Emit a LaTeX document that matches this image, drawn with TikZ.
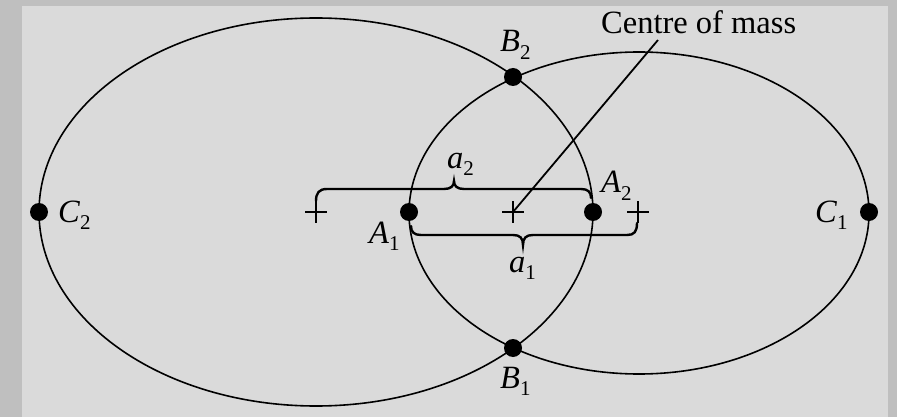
\documentclass[tikz,border=0pt]{standalone}
\usepackage{fontspec}
\setmainfont{Liberation Serif}
\newcommand\lbl[2]{\textit{#1}\raisebox{-0.24em}{\fontsize{21}{21}\selectfont #2}}
\definecolor{outerbg}{HTML}{BFBFBF}
\definecolor{innerbg}{HTML}{DADADA}
\tikzset{
  orbit/.style={line width=1.6pt, draw=black},
  dot/.style={circle, fill=black, inner sep=0pt, minimum size=18pt},
  lab/.style={anchor=base west, inner sep=0pt, font=\fontsize{32.5}{38}\selectfont},
  bracepath/.style={line width=2.4pt, line cap=round},
  plusmark/.style={line width=2.2pt},
  leader/.style={line width=1.8pt}
}
\begin{document}
\begin{tikzpicture}[x=1pt, y=-1pt]
\useasboundingbox (0,0) rectangle (897,417);
\fill[outerbg] (0,0) rectangle (897,417);
\fill[innerbg] (22,6) rectangle (888,417);

% orbits
\draw[orbit] (316,212) ellipse [x radius=277, y radius=194];
\draw[orbit] (639,213) ellipse [x radius=230, y radius=161];

% centres (plus signs)
\coordinate (c2) at (316,212);
\coordinate (cm) at (513,212);
\coordinate (c1) at (638,212);
\foreach \p in {c2,cm,c1}
  \draw[plusmark] (\p) +(-11,0) -- +(11,0) (\p) +(0,-11) -- +(0,11);

% points
\node[dot] (C2) at (39,212) {};
\node[dot] (C1) at (869,212) {};
\node[dot] (B2) at (513,77) {};
\node[dot] (B1) at (513,348) {};
\node[dot] (A1) at (409,212) {};
\node[dot] (A2) at (593,212) {};

% labels
\node[lab] (lC2) at (58,222) {\lbl{C}{2}};
\node[lab] (lC1) at (815,222) {\lbl{C}{1}};
\node[lab] (lB2) at (500,52) {\lbl{B}{2}};
\node[lab] (lB1) at (500,388) {\lbl{B}{1}};
\node[lab] (lA1) at (369,243) {\lbl{A}{1}};
\node[lab] (lA2) at (601,193) {\lbl{A}{2}};
\node[lab] (la2) at (447,168) {\lbl{a}{2}};
\node[lab] (la1) at (509,272) {\lbl{a}{1}};
\node[lab] (com) at (601,34) {Centre of mass};

% leader line
\coordinate (lt) at (658,40);
\draw[leader] (lt) -- (cm);

% braces
\draw[bracepath] (316,201) .. controls (316,193) and (319,189) .. (327,189)
  -- (444,189) .. controls (451,189) and (454,186) .. (454,181)
  .. controls (454,186) and (457,189) .. (464,189)
  -- (581,189) .. controls (588,189) and (591,192) .. (591,198);
\draw[bracepath] (411,226) .. controls (411,232) and (414,235) .. (421,235)
  -- (513,235) .. controls (520,235) and (523,238) .. (523,245)
  .. controls (523,238) and (526,235) .. (533,235)
  -- (627,235) .. controls (634,235) and (637,232) .. (637,223);
\end{tikzpicture}
\end{document}
